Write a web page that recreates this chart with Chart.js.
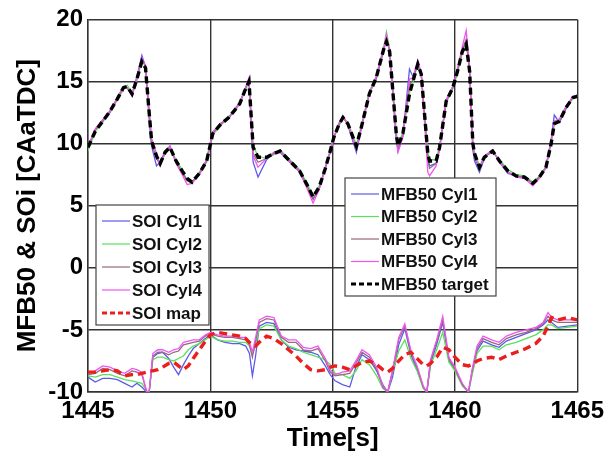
<!DOCTYPE html>
<html>
<head>
<meta charset="utf-8">
<script src="https://cdn.jsdelivr.net/npm/chart.js@4.4.1/dist/chart.umd.min.js"></script>
<style>
html,body{margin:0;padding:0;background:#fff;}
#wrap{position:relative;width:609px;height:457px;}
</style>
</head>
<body>
<div id="wrap"><canvas id="c" width="609" height="457"></canvas></div>
<script>
// ---- MFB50 data ----
const mfbTime = [1445.0,1445.3,1445.6,1445.9,1446.2,1446.45,1446.6,1446.8,1447.0,1447.2,1447.35,1447.5,1447.6,1447.8,1447.95,1448.15,1448.35,1448.6,1448.85,1449.05,1449.25,1449.55,1449.85,1450.1,1450.4,1450.75,1451.0,1451.2,1451.4,1451.58,1451.75,1451.95,1452.3,1452.6,1452.85,1453.25,1453.65,1453.95,1454.2,1454.45,1454.7,1454.9,1455.05,1455.25,1455.42,1455.62,1455.97,1456.17,1456.5,1456.78,1457.1,1457.2,1457.33,1457.6,1457.67,1457.87,1458.14,1458.28,1458.48,1458.62,1458.89,1458.96,1459.23,1459.37,1459.64,1459.91,1460.1,1460.3,1460.46,1460.6,1460.73,1460.8,1461.0,1461.2,1461.54,1461.82,1462.16,1462.5,1462.84,1463.18,1463.45,1463.72,1463.93,1464.06,1464.27,1464.54,1464.82,1465.0];
const mfbTarget = [9.7,11.0,11.8,12.6,13.6,14.5,14.6,14.0,15.2,16.6,16.1,12.5,10.2,9.0,8.4,9.3,9.7,8.6,7.8,7.2,6.9,7.6,8.6,10.8,11.5,12.1,12.7,13.2,14.2,15.0,9.7,8.9,8.9,9.2,9.4,8.6,7.8,6.7,5.7,6.5,8.0,9.4,10.5,11.5,12.1,11.6,9.8,11.3,14.0,15.3,17.7,18.2,17.4,10.8,9.8,10.8,14.0,15.0,16.4,15.6,9.2,8.6,8.6,9.7,13.4,14.5,15.8,17.4,18.0,15.8,10.0,9.2,8.1,8.9,9.4,8.6,7.8,7.4,7.3,6.8,7.3,8.1,10.0,11.6,11.8,12.9,13.7,13.8];
const mfbCyl1 = [9.6,11.1,11.9,12.5,13.7,14.6,14.5,13.9,15.4,17.1,16.2,12.0,9.8,8.2,8.5,9.4,9.8,8.5,7.6,7.1,6.9,7.5,8.7,10.9,11.6,12.0,12.8,13.3,14.3,15.1,8.5,7.3,8.7,9.3,9.3,8.5,7.7,6.6,5.6,6.4,8.1,9.3,10.4,11.6,12.2,11.5,9.3,11.2,14.1,15.2,17.6,18.4,17.5,10.4,9.4,10.6,16.0,15.4,16.3,15.7,8.9,8.2,8.4,9.6,13.5,14.6,15.9,17.5,18.3,15.7,9.5,8.6,7.7,8.8,9.5,8.5,7.6,7.4,7.2,6.9,7.2,8.2,10.3,12.3,11.7,12.8,13.8,13.9];
const mfbCyl2 = [9.4,11.0,11.7,12.7,13.5,14.4,14.7,14.1,15.1,16.7,16.3,12.6,10.3,9.1,8.3,9.2,9.6,8.7,7.9,7.0,6.8,7.7,8.5,10.7,11.4,12.2,12.6,13.3,14.1,15.0,9.8,9.0,8.8,9.1,9.5,8.7,7.9,6.8,5.8,6.6,7.9,9.5,10.6,11.4,12.0,11.7,9.9,11.4,14.2,15.4,17.9,19.0,17.6,11.0,9.9,10.9,14.1,14.9,16.5,15.5,9.3,8.7,8.7,9.8,13.3,14.4,15.7,17.3,18.1,15.9,10.1,9.3,8.2,9.0,9.3,8.7,7.9,7.5,7.4,6.9,7.4,8.0,10.1,11.5,11.9,13.0,13.6,13.8];
const mfbCyl3 = [9.7,11.1,11.8,12.6,13.6,14.5,14.5,13.9,15.3,16.8,16.2,12.3,10.0,8.8,8.3,9.3,9.7,8.5,7.7,7.0,6.9,7.6,8.6,10.8,11.5,12.1,12.7,13.2,14.3,15.1,9.2,8.5,8.8,9.2,9.4,8.6,7.8,6.6,5.5,6.4,8.0,9.4,10.5,11.5,12.1,11.6,9.6,11.3,14.0,15.3,17.7,18.5,17.4,10.6,9.6,10.7,14.8,15.1,16.5,15.6,8.8,8.0,8.4,9.6,13.4,14.5,15.8,17.5,18.4,15.8,9.7,8.9,7.9,8.9,9.4,8.6,7.7,7.4,7.3,6.8,7.3,8.1,10.2,11.8,11.8,12.9,13.7,13.8];
const mfbCyl4 = [9.8,11.2,11.9,12.6,13.7,14.6,14.5,13.8,15.3,16.9,16.3,12.8,10.4,9.2,8.2,9.3,9.8,8.4,7.5,6.7,6.8,7.5,8.7,10.9,11.6,12.1,12.8,13.2,14.3,15.3,9.0,8.1,8.8,9.3,9.4,8.5,7.7,6.4,5.2,6.3,8.0,9.3,10.5,11.6,12.2,11.6,9.5,11.2,14.0,15.4,17.8,18.8,17.3,10.5,9.3,10.5,15.2,15.3,16.7,15.7,7.7,7.4,8.2,9.6,13.5,14.6,16.0,17.8,19.1,16.0,9.8,9.1,8.0,9.0,9.5,8.5,7.7,7.3,7.2,6.6,7.2,8.1,10.2,11.8,12.0,13.0,13.8,13.9];

// ---- SOI data ----
const soiTime = [1445.0,1445.3,1445.6,1445.9,1446.2,1446.5,1446.8,1447.0,1447.2,1447.4,1447.5,1447.65,1447.85,1448.05,1448.3,1448.5,1448.7,1448.9,1449.1,1449.3,1449.55,1449.8,1450.0,1450.3,1450.6,1450.9,1451.2,1451.45,1451.6,1451.72,1451.85,1452.0,1452.3,1452.6,1452.9,1453.2,1453.5,1453.8,1454.1,1454.4,1454.7,1454.9,1455.1,1455.4,1455.7,1455.95,1456.2,1456.5,1456.8,1457.05,1457.25,1457.45,1457.7,1457.95,1458.2,1458.45,1458.7,1458.85,1459.0,1459.25,1459.5,1459.75,1460.0,1460.3,1460.55,1460.7,1460.9,1461.15,1461.5,1461.8,1462.1,1462.5,1462.9,1463.3,1463.6,1463.8,1463.95,1464.2,1464.6,1465.0];
const soiMap = [-8.4,-8.4,-8.3,-8.2,-8.3,-8.7,-8.6,-8.6,-8.5,-8.4,-8.3,-8.3,-8.2,-8.0,-7.7,-7.6,-7.9,-8.2,-7.9,-7.3,-6.6,-5.9,-5.4,-5.2,-5.3,-5.4,-5.5,-5.7,-6.0,-6.2,-6.3,-6.0,-5.5,-5.7,-6.1,-6.6,-7.1,-7.7,-8.2,-8.3,-8.2,-8.0,-7.9,-8.0,-8.2,-7.9,-7.6,-7.5,-7.8,-8.2,-8.4,-8.1,-7.5,-7.0,-6.8,-7.3,-7.8,-7.9,-7.7,-7.2,-6.4,-6.6,-7.2,-7.8,-7.9,-7.8,-7.5,-7.3,-7.2,-7.4,-7.1,-6.8,-6.5,-6.1,-5.5,-4.7,-4.0,-4.2,-4.0,-4.2];
const soiCyl1 = [-8.8,-9.2,-8.9,-8.9,-9.0,-9.3,-9.6,-9.3,-9.6,-10.0,-10.0,-7.2,-6.9,-6.8,-7.3,-8.0,-8.6,-7.8,-7.1,-6.5,-6.1,-5.7,-5.4,-5.8,-6.0,-6.1,-6.1,-6.3,-6.9,-8.7,-7.1,-4.7,-4.4,-4.5,-5.8,-6.4,-6.6,-6.7,-6.8,-7.0,-7.9,-8.6,-9.1,-9.4,-9.6,-8.0,-7.0,-7.4,-8.3,-9.4,-10.0,-8.8,-6.2,-4.9,-7.0,-8.2,-9.6,-10.0,-7.7,-6.2,-4.4,-7.4,-8.2,-9.4,-10.0,-8.5,-6.7,-5.9,-6.2,-6.4,-5.9,-5.6,-5.3,-5.0,-4.6,-4.2,-4.4,-4.8,-4.7,-4.6];
const soiCyl2 = [-8.7,-8.8,-8.6,-8.6,-8.8,-9.0,-9.1,-9.2,-9.3,-9.9,-10.0,-7.4,-7.2,-7.2,-7.4,-7.5,-7.3,-7.1,-6.6,-6.3,-6.1,-5.8,-5.5,-5.8,-5.9,-5.9,-6.0,-6.0,-6.3,-7.0,-6.2,-4.9,-4.6,-4.7,-5.8,-6.3,-6.5,-6.8,-7.0,-7.2,-7.4,-7.8,-8.5,-8.6,-8.9,-8.3,-7.4,-7.8,-8.7,-9.7,-10.0,-8.4,-6.7,-5.8,-7.3,-8.3,-9.7,-10.0,-7.9,-6.6,-5.2,-7.6,-8.3,-9.5,-10.0,-8.6,-6.9,-6.3,-6.3,-6.6,-6.2,-6.0,-5.7,-5.4,-5.0,-4.6,-4.6,-4.9,-4.8,-4.7];
const soiCyl3 = [-8.6,-8.5,-8.1,-8.2,-8.5,-8.7,-8.3,-8.4,-8.6,-10.0,-10.0,-7.1,-6.8,-6.8,-7.0,-6.8,-6.7,-6.2,-6.1,-6.0,-5.9,-5.5,-5.3,-5.5,-5.6,-5.6,-5.7,-5.8,-6.2,-7.2,-5.9,-4.4,-4.1,-4.2,-5.6,-6.0,-6.0,-6.6,-6.7,-6.5,-7.5,-8.4,-8.7,-8.6,-8.5,-7.7,-6.8,-7.2,-8.2,-9.6,-10.0,-8.3,-5.8,-4.7,-6.8,-8.0,-9.6,-10.0,-7.5,-6.0,-4.2,-7.3,-8.1,-9.4,-10.0,-8.3,-6.5,-5.7,-6.0,-6.2,-5.7,-5.4,-5.2,-4.9,-4.5,-3.9,-4.2,-4.4,-4.4,-4.4];
const soiCyl4 = [-8.5,-8.3,-7.9,-8.0,-8.3,-8.5,-8.1,-8.2,-8.4,-10.0,-10.0,-6.9,-6.6,-6.6,-6.8,-6.6,-6.5,-6.0,-5.9,-5.8,-5.8,-5.4,-5.2,-5.4,-5.5,-5.5,-5.6,-5.6,-6.0,-6.8,-5.6,-4.2,-3.9,-4.0,-5.5,-5.8,-5.8,-6.4,-6.5,-6.3,-7.3,-8.2,-8.6,-8.4,-8.3,-7.5,-6.6,-7.0,-8.0,-9.5,-10.0,-8.2,-5.6,-4.5,-6.7,-7.9,-9.5,-10.0,-7.4,-5.8,-3.9,-7.2,-8.0,-9.3,-10.0,-8.2,-6.3,-5.5,-5.8,-6.0,-5.5,-5.2,-5.0,-4.8,-4.4,-3.6,-4.0,-4.2,-4.2,-4.2];

// ---- axes ----
const xTicks = [1445, 1450, 1455, 1460, 1465];
const yTicks = [-10, -5, 0, 5, 10, 15, 20];
const xTitle = 'Time[s]';
const yTitle = 'MFB50 & SOi [CAaTDC]';
const soiLabels = ['SOI Cyl1', 'SOI Cyl2', 'SOI Cyl3', 'SOI Cyl4', 'SOI map'];
const mfbLabels = ['MFB50 Cyl1', 'MFB50 Cyl2', 'MFB50 Cyl3', 'MFB50 Cyl4', 'MFB50 target'];

const C1 = 'rgb(90,90,235)', C2 = 'rgb(90,225,90)', C3 = 'rgb(150,105,125)', C4 = 'rgb(240,85,240)';
const CMAP = 'rgb(235,30,30)', CTGT = '#000';

function pts(t, v) { return t.map((x, i) => ({x: x, y: v[i]})); }
function ds(label, t, v, color, width, dash) {
  return {label, data: pts(t, v), borderColor: color, backgroundColor: color,
    borderWidth: width, borderDash: dash || [], pointRadius: 0, tension: 0, fill: false};
}

const datasets = [
  ds(mfbLabels[4], mfbTime, mfbTarget, CTGT, 3.4, [7, 4]),
  ds(mfbLabels[3], mfbTime, mfbCyl4, C4, 1.3),
  ds(mfbLabels[2], mfbTime, mfbCyl3, C3, 1.3),
  ds(mfbLabels[1], mfbTime, mfbCyl2, C2, 1.3),
  ds(mfbLabels[0], mfbTime, mfbCyl1, C1, 1.3),
  ds(soiLabels[4], soiTime, soiMap, CMAP, 3.4, [8, 5]),
  ds(soiLabels[3], soiTime, soiCyl4, C4, 1.3),
  ds(soiLabels[2], soiTime, soiCyl3, C3, 1.3),
  ds(soiLabels[1], soiTime, soiCyl2, C2, 1.3),
  ds(soiLabels[0], soiTime, soiCyl1, C1, 1.3)
];

const boxLegends = {
  id: 'boxLegends',
  afterDraw(chart) {
    const ctx = chart.ctx;
    function draw(bx, by, bw, bh, labels, styles, rowGap) {
      ctx.save();
      ctx.fillStyle = '#fff';
      ctx.fillRect(bx, by, bw, bh);
      ctx.strokeStyle = '#444';
      ctx.lineWidth = 1.2;
      ctx.strokeRect(bx, by, bw, bh);
      ctx.font = 'bold 17px "Liberation Sans", Arial, sans-serif';
      ctx.textBaseline = 'middle';
      ctx.textAlign = 'left';
      labels.forEach((lab, i) => {
        const cy = by + 16 + i * rowGap;
        const s = styles[i];
        ctx.strokeStyle = s[0];
        ctx.lineWidth = s[1];
        ctx.setLineDash(s[2] || []);
        ctx.beginPath();
        ctx.moveTo(bx + 6, cy);
        ctx.lineTo(bx + 34, cy);
        ctx.stroke();
        ctx.setLineDash([]);
        ctx.fillStyle = '#111';
        ctx.fillText(lab, bx + 36, cy + 1);
      });
      ctx.restore();
    }
    draw(96, 205, 113, 120, soiLabels,
      [[C1,1.2],[C2,1.2],[C3,1.2],[C4,1.2],[CMAP,3,[5,3]]], 23);
    draw(345, 178, 151, 118, mfbLabels,
      [[C1,1.2],[C2,1.2],[C3,1.2],[C4,1.2],[CTGT,3,[5,3]]], 22.5);
  }
};

const tickFont = {family: '"Liberation Sans", Arial, sans-serif', size: 24, weight: 'bold'};
const titleFont = {family: '"Liberation Sans", Arial, sans-serif', size: 26, weight: 'bold'};

new Chart(document.getElementById('c'), {
  type: 'line',
  data: {datasets},
  plugins: [boxLegends],
  options: {
    responsive: false,
    animation: false,
    events: [],
    layout: {padding: {top: 18, right: 31, bottom: 0, left: 0}},
    plugins: {legend: {display: false}, tooltip: {enabled: false}, title: {display: false}},
    scales: {
      x: {
        type: 'linear', min: 1445, max: 1465,
        afterBuildTicks: (s) => { s.ticks = xTicks.map(v => ({value: v})); },
        afterFit: (s) => { s.height = 65; },
        ticks: {color: '#000', font: tickFont, padding: 5, maxRotation: 0, autoSkip: false,
          callback: (v) => String(v)},
        grid: {color: '#333', lineWidth: 1.4, drawTicks: false},
        border: {color: '#333', width: 1.4},
        title: {display: true, text: xTitle, color: '#000', font: titleFont,
          padding: {top: 0, bottom: 3}}
      },
      y: {
        type: 'linear', min: -10, max: 20,
        afterBuildTicks: (s) => { s.ticks = yTicks.map(v => ({value: v})); },
        afterFit: (s) => { s.width = 88; },
        ticks: {color: '#000', font: tickFont, padding: 5, autoSkip: false,
          callback: (v) => String(v)},
        grid: {color: '#333', lineWidth: 1.4, drawTicks: false},
        border: {color: '#333', width: 1.4},
        title: {display: true, text: yTitle, color: '#000', font: titleFont,
          padding: {top: 12, bottom: 0}}
      }
    }
  }
});
</script>
</body>
</html>
